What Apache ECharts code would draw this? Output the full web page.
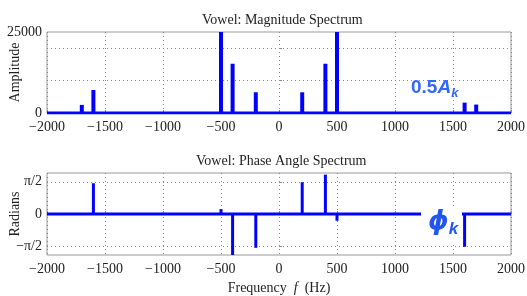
<!DOCTYPE html>
<html>
<head>
<meta charset="utf-8">
<script src="https://cdn.jsdelivr.net/npm/echarts@6/dist/echarts.min.js"></script>
</head>
<body style="margin:0;padding:0;background:#fff">
<div id="chart" style="width:527px;height:296px"></div>
<script>
var chart = echarts.init(document.getElementById('chart'));

// frequencies of the harmonics (Hz)
var freqs = [-1700, -1600, -500, -400, -200, 200, 400, 500, 1600, 1700];
// 0.5*A_k
var magnitudes = [2500, 7100, 25000, 15200, 6400, 6400, 15200, 25000, 3200, 2600];
// phi_k (radians)
var phases = [0, 1.5, 0.24, -2, -1.65, 1.55, 1.92, -0.33, -1.6, 0];
var freqTicks = [-2000, 2000];

var blue = '#0000ff';
var serif = 'Liberation Serif';
var fs = 14;

function fmtFreq(v) {
	return v < 0 ? '\u2212' + Math.abs(v) : String(v);
}

var magData = freqs.map(function (f, i) { return [f, magnitudes[i]]; });
var phaseData = freqs.map(function (f, i) { return [f, phases[i]]; });
var baseLine = freqTicks.map(function (f) { return [f, 0]; });

function xAxisCfg(idx, showName) {
	return {
		type: 'value', gridIndex: idx, min: -2000, max: 2000, interval: 500,
		axisLine: { show: false },
		axisTick: { inside: true, length: 3, lineStyle: { color: '#888' } },
		axisLabel: { formatter: fmtFreq, fontFamily: serif, fontSize: fs, color: '#222', margin: 7 },
		splitLine: { show: true, lineStyle: { color: '#888', type: [1, 3] } },
		name: showName ? '{n|Frequency  }{i|f}{n|  (Hz)}' : '',
		nameLocation: 'middle', nameGap: 26, nameMoveOverlap: false,
		nameTextStyle: {
			rich: {
				n: { fontFamily: serif, fontSize: fs, color: '#222' },
				i: { fontFamily: serif, fontSize: fs, color: '#222', fontStyle: 'italic' }
			}
		}
	};
}

var option = {
	animation: false,
	title: [
		{ text: 'Vowel: Magnitude Spectrum', left: 197, top: 8,
		  textStyle: { fontFamily: serif, fontSize: fs, fontWeight: 'normal', color: '#222' } },
		{ text: 'Vowel: Phase Angle Spectrum', left: 191, top: 149,
		  textStyle: { fontFamily: serif, fontSize: fs, fontWeight: 'normal', color: '#222' } }
	],
	grid: [
		{ left: 47, right: 16, top: 32, height: 81, show: true, borderColor: '#999', borderWidth: 1,
		  containLabel: false, outerBoundsMode: 'none' },
		{ left: 47, right: 16, top: 173, height: 82, show: true, borderColor: '#999', borderWidth: 1,
		  containLabel: false, outerBoundsMode: 'none' }
	],
	xAxis: [xAxisCfg(0, false), xAxisCfg(1, true)],
	yAxis: [
		{
			type: 'value', gridIndex: 0, min: 0, max: 25000,
			axisLine: { show: false },
			axisTick: { inside: true, length: 3, lineStyle: { color: '#888' }, customValues: [10000, 20000] },
			axisLabel: { customValues: [0, 25000], formatter: function (v) { return String(v); },
			  fontFamily: serif, fontSize: fs, color: '#222', margin: 5 },
			splitLine: { show: true, lineStyle: { color: '#888', type: [1, 3] } },
			name: 'Amplitude', nameLocation: 'middle', nameGap: 25, nameMoveOverlap: false,
			nameTextStyle: { fontFamily: serif, fontSize: fs, color: '#222' }
		},
		{
			type: 'value', gridIndex: 1, min: -2, max: 2,
			axisLine: { show: false },
			axisTick: { inside: true, length: 3, lineStyle: { color: '#888' }, customValues: [-Math.PI / 2, 0, Math.PI / 2] },
			axisLabel: {
				customValues: [-Math.PI / 2, 0, Math.PI / 2], fontFamily: serif, fontSize: fs, color: '#222', margin: 5,
				formatter: function (v) {
					if (Math.abs(v) < 1e-6) return '0';
					return v > 0 ? '\u03c0/2' : '\u2212\u03c0/2';
				}
			},
			splitLine: { show: true, lineStyle: { color: '#888', type: [1, 3] } },
			name: 'Radians', nameLocation: 'middle', nameGap: 25, nameMoveOverlap: false,
			nameTextStyle: { fontFamily: serif, fontSize: fs, color: '#222' }
		}
	],
	series: [
		{ type: 'line', xAxisIndex: 0, yAxisIndex: 0, data: baseLine, symbol: 'none',
		  lineStyle: { color: blue, width: 3 }, z: 3 },
		{ type: 'bar', xAxisIndex: 0, yAxisIndex: 0, data: magData, barWidth: 4,
		  itemStyle: { color: blue }, z: 4 },
		{ type: 'line', xAxisIndex: 1, yAxisIndex: 1, data: baseLine, symbol: 'none',
		  lineStyle: { color: blue, width: 3 }, z: 3 },
		{ type: 'bar', xAxisIndex: 1, yAxisIndex: 1, data: phaseData, barWidth: 3,
		  itemStyle: { color: blue }, z: 4 }
	],
	graphic: [
		{ type: 'text', left: 411, top: 78, z: 100,
		  style: { text: '{a|0.5}{b|A}{c|k}', rich: {
			a: { fontFamily: 'Liberation Sans', fontWeight: 'bold', fontSize: 19, fill: '#3366ff' },
			b: { fontFamily: 'Liberation Sans', fontWeight: 'bold', fontStyle: 'italic', fontSize: 19, fill: '#3366ff' },
			c: { fontFamily: 'Liberation Sans', fontWeight: 'bold', fontStyle: 'italic', fontSize: 13, fill: '#3366ff', verticalAlign: 'bottom', padding: [12, 0, 0, 0] }
		  } } },
		{ type: 'rect', shape: { x: 421, y: 209, width: 41, height: 33 }, z: 99,
		  style: { fill: '#fff' } },
		{ type: 'text', left: 428, top: 209, z: 100,
		  style: { text: '{a|\u03d5}{b|k}', rich: {
			a: { fontFamily: 'DejaVu Sans', fontWeight: 'bold', fontStyle: 'italic', fontSize: 26, fill: '#2255ee' },
			b: { fontFamily: 'Liberation Sans', fontWeight: 'bold', fontStyle: 'italic', fontSize: 17, fill: '#2255ee', padding: [14, 0, 0, 0] }
		  } } }
	]
};
chart.setOption(option);
</script>
</body>
</html>
